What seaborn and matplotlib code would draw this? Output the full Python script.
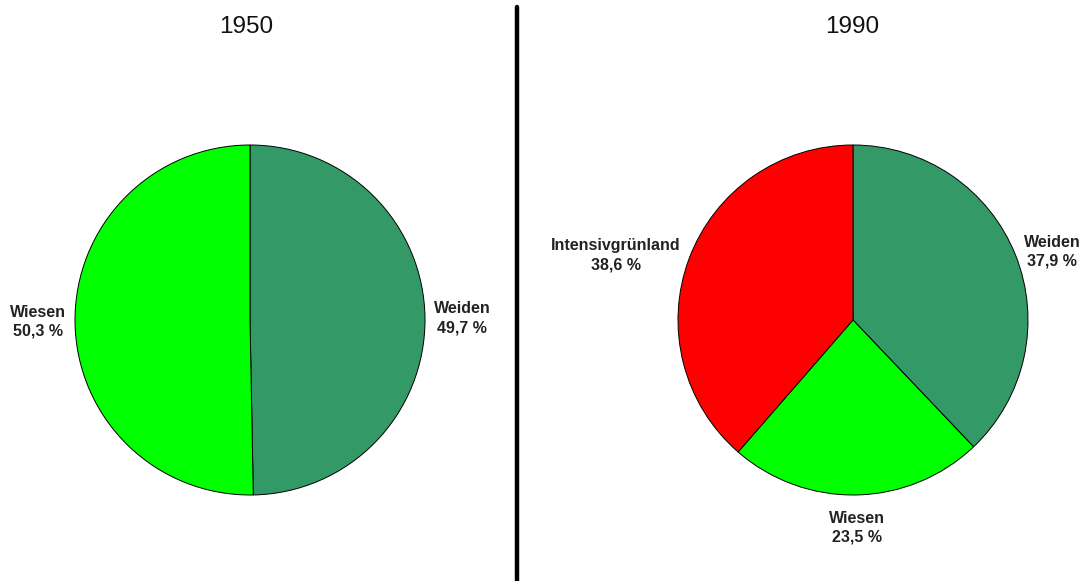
import seaborn as sns
import matplotlib.pyplot as plt
from matplotlib.lines import Line2D

# Grünlandnutzung 1950 vs 1990
jahre = ['1950', '1990']
labels_1950 = ['Weiden', 'Wiesen']
werte_1950 = [49.7, 50.3]
labels_1990 = ['Weiden', 'Wiesen', 'Intensivgrünland']
werte_1990 = [37.9, 23.5, 38.6]

farben = {'Weiden': '#339966', 'Wiesen': '#00ff00', 'Intensivgrünland': '#ff0000'}

sns.set_theme(style='white')
plt.rcParams['font.family'] = ['Liberation Sans', 'DejaVu Sans']

W, H = 1088, 581
fig = plt.figure(figsize=(W / 100, H / 100), dpi=100)
fig.patch.set_facecolor('white')

def pie_achse(cx, cy, r):
    # Achse in Pixeln (Mitte + Radius) -> Figure-Koordinaten
    return fig.add_axes([(cx - r) / W, 1 - (cy + r) / H, 2 * r / W, 2 * r / H])

def torte(ax, labels, werte):
    texte = [f'{l}\n{str(v).replace(".", ",")} %' for l, v in zip(labels, werte)]
    wedges, txts = ax.pie(werte, labels=texte, colors=[farben[l] for l in labels],
                          startangle=90, counterclock=False, labeldistance=1.05,
                          wedgeprops={'edgecolor': 'black', 'linewidth': 0.7},
                          textprops={'fontsize': 11.5, 'fontweight': 'bold',
                                     'color': '#222222', 'linespacing': 1.35})
    for t in txts:
        t.set_multialignment('center')
        x, y = t.get_position()
        if y < -0.7:
            # Beschriftung unten: zentriert, etwas tiefer
            t.set_ha('center')
            t.set_va('top')
            t.set_position((x, y - 0.04))
    ax.set_xlim(-1, 1)
    ax.set_ylim(-1, 1)
    ax.set_aspect('equal')
    ax.axis('off')

ax1 = pie_achse(250, 320, 175)
torte(ax1, labels_1950, werte_1950)
ax2 = pie_achse(853, 320, 175)
torte(ax2, labels_1990, werte_1990)

fig.text(246 / W, 1 - 27 / H, jahre[0], ha='center', va='center', fontsize=17.5, color='#111111')
fig.text(852 / W, 1 - 27 / H, jahre[1], ha='center', va='center', fontsize=17.5, color='#111111')

# Trennlinie
fig.add_artist(Line2D([517 / W, 517 / W], [0, 1 - 7 / H], color='black', linewidth=3.2,
                      transform=fig.transFigure))

fig.savefig('out.png', dpi=100, facecolor='white')
